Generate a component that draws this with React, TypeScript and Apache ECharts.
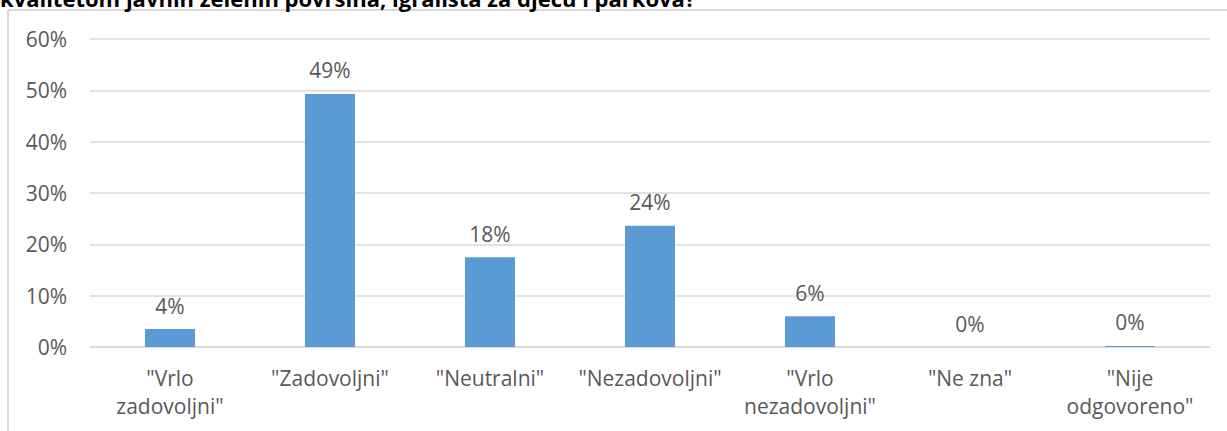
import React, { useEffect, useRef } from "react";
import * as echarts from "echarts";

const categories = [
  '"Vrlo\nzadovoljni"',
  '"Zadovoljni"',
  '"Neutralni"',
  '"Nezadovoljni"',
  '"Vrlo\nnezadovoljni"',
  '"Ne zna"',
  '"Nije\nodgovoreno"',
];
const values = [3.5, 49.3, 17.5, 23.6, 6.0, 0, 0.2];
const titleText = "kvalitetom javnih zelenih površina, igrališta za djecu i parkova?";

export default function App() {
  const ref = useRef<HTMLDivElement>(null);
  useEffect(() => {
    if (!ref.current) return;
    const chart = echarts.init(ref.current, null, { renderer: "svg" });
    const font = "'Open Sans', sans-serif";
    chart.setOption({
      animation: false,
      textStyle: { fontFamily: font },
      graphic: [
        {
          type: "line",
          shape: { x1: 8, y1: 10, x2: 1227, y2: 10 },
          style: { stroke: "#d9d9d9", lineWidth: 2 },
        },
        {
          type: "line",
          shape: { x1: 8, y1: 10, x2: 8, y2: 431 },
          style: { stroke: "#d9d9d9", lineWidth: 2 },
        },
        {
          type: "text",
          left: 0,
          top: -13,
          style: {
            text: titleText,
            font: "bold 22px 'Open Sans', sans-serif",
            fill: "#000000",
          },
        },
      ],
      grid: { left: 90, right: 17, top: 39, bottom: 84, containLabel: false },
      xAxis: {
        type: "category",
        data: categories,
        axisLine: { lineStyle: { color: "#d9d9d9", width: 1.5 } },
        axisTick: { show: false },
        axisLabel: {
          color: "#595959",
          fontSize: 21,
          fontFamily: font,
          lineHeight: 28,
          margin: 17,
          interval: 0,
        },
      },
      yAxis: {
        type: "value",
        min: 0,
        max: 60,
        interval: 10,
        axisLine: { show: false },
        axisTick: { show: false },
        splitLine: { lineStyle: { color: "#d9d9d9", width: 1.5 } },
        axisLabel: {
          color: "#595959",
          fontSize: 21,
          fontFamily: font,
          formatter: "{value}%",
          margin: 23,
        },
      },
      series: [
        {
          type: "bar",
          data: values,
          barWidth: 50,
          itemStyle: { color: "#5b9bd5" },
          label: {
            show: true,
            position: "top",
            distance: 13,
            color: "#595959",
            fontSize: 21,
            fontFamily: font,
            formatter: (p: any) => Math.round(p.value) + "%",
          },
        },
      ],
    });
    return () => chart.dispose();
  }, []);
  return (
    <div
      ref={ref}
      style={{ position: "absolute", left: 0, top: 0, width: 1227, height: 431 }}
    />
  );
}
